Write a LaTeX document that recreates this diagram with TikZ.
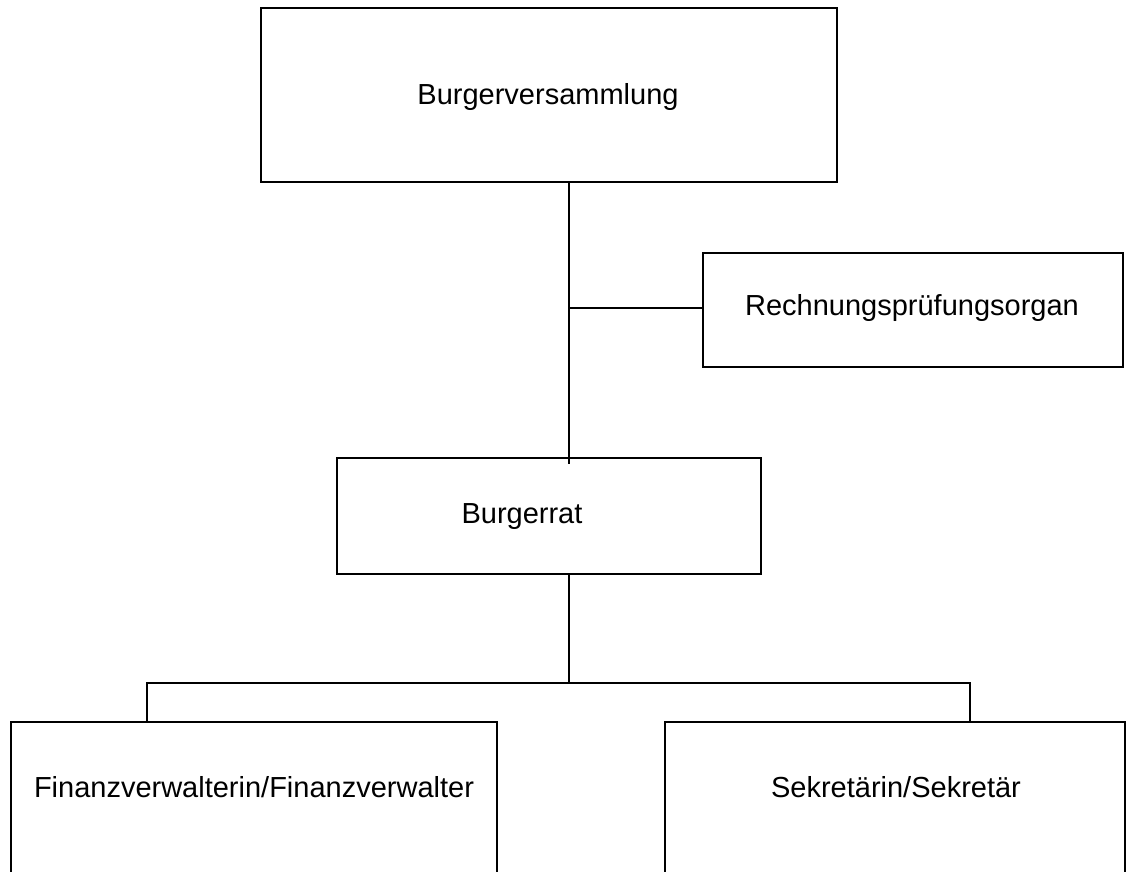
\documentclass[tikz,border=0pt]{standalone}
\usepackage{fontspec}
\setmainfont{Liberation Sans}
\begin{document}
\begin{tikzpicture}[x=1pt,y=-1pt,
  box/.style={draw=black, line width=2pt, fill=white, inner sep=0pt, align=center},
  lbl/.style={inner sep=0pt, font=\fontsize{29}{33}\selectfont},
  conn/.style={draw=black, line width=2pt}]
\useasboundingbox (0,0) rectangle (1127,872);
\clip (0,0) rectangle (1127,872);
\fill[white] (0,0) rectangle (1127,872);
% boxes
\node[box, minimum width=576pt, minimum height=174pt] (bv) at (549,95) {};
\node[lbl] (bvt) at (548,97) {Burgerversammlung};
\node[box, minimum width=420pt, minimum height=114pt] (rp) at (913,310) {};
\node[lbl] (rpt) at (912,308) {Rechnungsprüfungsorgan};
\node[box, minimum width=424pt, minimum height=116pt] (br) at (549,516) {};
\node[lbl] (brt) at (522,517) {Burgerrat};
\node[box, minimum width=486pt, minimum height=200pt, anchor=north] (fin) at (254,721) {};
\node[lbl] (fint) at (254,787) {Finanzverwalterin/Finanzverwalter};
\node[box, minimum width=460pt, minimum height=200pt, anchor=north] (sek) at (895,721) {};
\node[lbl] (sekt) at (896,787) {Sekretärin/Sekretär};
% junction coordinates
\coordinate (jr) at (569,308);
\coordinate (jb) at (569,683);
\coordinate (jl) at (147,683);
\coordinate (jrr) at (970,683);
% connectors
\draw[conn] (bv.south -| jr) -- ([yshift=-7pt]br.north -| jr);
\draw[conn] (jr) -- (jr -| rp.west);
\draw[conn] (br.south -| jb) -- (jb);
\draw[conn] (fin.north -| jl) -- (jl) -- (jrr) -- (sek.north -| jrr);
\end{tikzpicture}
\end{document}
